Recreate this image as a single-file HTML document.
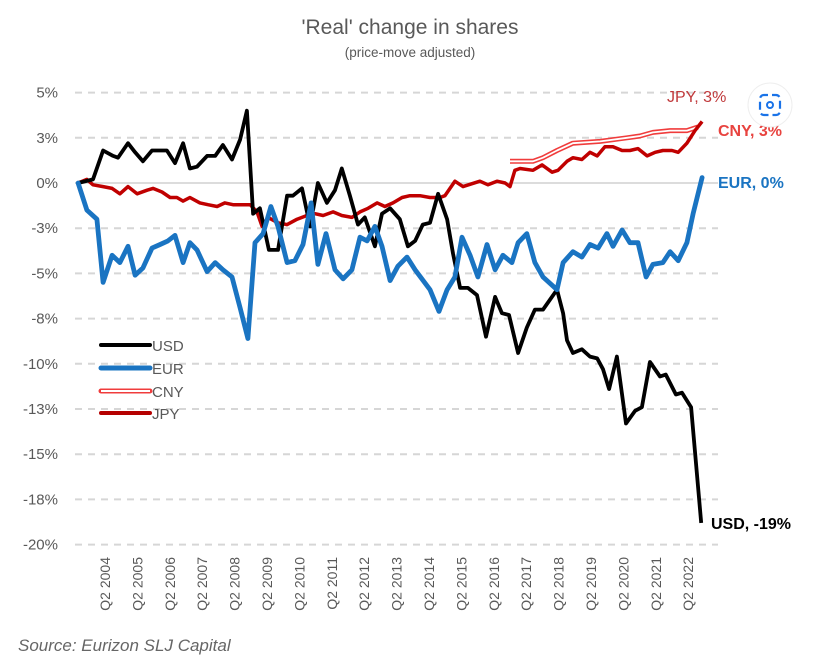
<!DOCTYPE html>
<html><head><meta charset="utf-8"><style>
html,body{margin:0;padding:0;background:#fff;}
svg{display:block;font-family:"Liberation Sans",sans-serif;}
</style></head><body>
<svg id="chart" width="816" height="658" viewBox="0 0 816 658">
<text x="410" y="34" text-anchor="middle" font-size="21" fill="#595959">'Real' change in shares</text>
<text x="410" y="57" text-anchor="middle" font-size="13.5" fill="#595959">(price-move adjusted)</text>
<g id="grid"></g><g id="ylabels"></g><g id="xlabels"></g><g id="series"></g>
<g>
 <g><line x1="101" y1="345" x2="150" y2="345" stroke="#000" stroke-width="4" stroke-linecap="round"/><text x="152" y="351" font-size="15" fill="#595959">USD</text></g>
 <g><line x1="101" y1="368" x2="150" y2="368" stroke="#1a74c2" stroke-width="5" stroke-linecap="round"/><text x="152" y="374" font-size="15" fill="#595959">EUR</text></g>
 <g><line x1="101" y1="391" x2="150" y2="391" stroke="#f03c3c" stroke-width="5" stroke-linecap="round"/><line x1="101" y1="391" x2="150" y2="391" stroke="#fff" stroke-width="2"/><text x="152" y="397" font-size="15" fill="#595959">CNY</text></g>
 <g><line x1="101" y1="413" x2="150" y2="413" stroke="#b50000" stroke-width="4" stroke-linecap="round"/><text x="152" y="419" font-size="15" fill="#595959">JPY</text></g>
</g>
<text x="667" y="102" font-size="16" fill="#c0393b">JPY, 3%</text>
<text x="718" y="136" font-size="16" font-weight="bold" fill="#e8433f">CNY, 3%</text>
<text x="718" y="188" font-size="16" font-weight="bold" fill="#1a74c2">EUR, 0%</text>
<text x="711" y="529" font-size="16" font-weight="bold" fill="#000">USD, -19%</text>
<text x="18" y="651" font-size="17" font-style="italic" fill="#666">Source: Eurizon SLJ Capital</text>
<g><circle cx="770" cy="105" r="22" fill="#fff" stroke="#eee"/><rect x="760" y="95" width="20" height="20" rx="4" fill="none" stroke="#1a73e8" stroke-width="2.2" stroke-dasharray="8 4" stroke-dashoffset="4"/><circle cx="770" cy="105" r="3" fill="none" stroke="#1a73e8" stroke-width="2"/></g>
</svg>
<script>
const yTicks=[5,2.5,0,-2.5,-5,-7.5,-10,-12.5,-15,-17.5,-20];
const yTickLabels=["5%","3%","0%","-3%","-5%","-8%","-10%","-13%","-15%","-18%","-20%"];
const xTickYears=[2004,2005,2006,2007,2008,2009,2010,2011,2012,2013,2014,2015,2016,2017,2018,2019,2020,2021,2022];
const usdT=[2003.17,2003.63,2003.94,2004.25,2004.40,2004.71,2004.93,2005.17,2005.45,2005.70,2005.91,2006.16,2006.41,2006.62,2006.84,2007.15,2007.40,2007.64,2007.92,2008.17,2008.38,2008.57,2008.78,2009.06,2009.34,2009.62,2009.80,2010.08,2010.33,2010.57,2010.85,2011.10,2011.31,2011.56,2011.81,2012.02,2012.33,2012.55,2012.80,2013.10,2013.35,2013.57,2013.81,2014.03,2014.28,2014.56,2014.74,2014.96,2015.20,2015.48,2015.76,2016.04,2016.25,2016.47,2016.75,2017.02,2017.27,2017.52,2017.95,2018.14,2018.26,2018.44,2018.72,2018.97,2019.19,2019.37,2019.56,2019.80,2020.08,2020.36,2020.57,2020.82,2021.13,2021.31,2021.62,2021.81,2022.09,2022.40];
const usdV=[0,0.2,1.8,1.5,1.4,2.2,1.7,1.2,1.8,1.8,1.8,1.1,2.2,0.8,0.9,1.5,1.5,2.1,1.3,2.4,4.0,-1.7,-1.4,-3.7,-3.7,-0.7,-0.7,-0.3,-2.4,0,-1.1,-0.4,0.8,-0.7,-2.3,-1.9,-3.5,-1.7,-1.4,-2.0,-3.5,-3.2,-2.3,-2.2,-0.6,-2.0,-3.9,-5.8,-5.8,-6.2,-8.5,-6.3,-7.2,-7.3,-9.4,-8.0,-7.0,-7.0,-5.9,-7.2,-8.7,-9.4,-9.2,-9.6,-9.7,-10.3,-11.4,-9.6,-13.3,-12.6,-12.4,-9.9,-10.7,-10.6,-11.7,-11.6,-12.4,-18.8];
const eurT=[2003.17,2003.44,2003.75,2003.94,2004.22,2004.46,2004.71,2004.93,2005.17,2005.45,2005.70,2005.94,2006.16,2006.41,2006.62,2006.84,2007.15,2007.40,2007.64,2007.92,2008.17,2008.41,2008.63,2008.88,2009.12,2009.34,2009.62,2009.86,2010.11,2010.36,2010.57,2010.82,2011.10,2011.35,2011.62,2011.87,2012.09,2012.33,2012.55,2012.80,2013.04,2013.32,2013.57,2014.03,2014.31,2014.56,2014.80,2015.02,2015.27,2015.51,2015.79,2016.04,2016.28,2016.56,2016.75,2017.02,2017.27,2017.52,2017.95,2018.14,2018.44,2018.72,2018.97,2019.22,2019.49,2019.68,2019.96,2020.20,2020.45,2020.70,2020.91,2021.22,2021.44,2021.69,2021.96,2022.15,2022.43];
const eurV=[0,-1.5,-2.0,-5.5,-4.0,-4.4,-3.5,-5.1,-4.7,-3.6,-3.4,-3.2,-2.9,-4.4,-3.3,-3.7,-4.9,-4.4,-4.8,-5.2,-6.9,-8.6,-3.3,-2.8,-1.3,-2.4,-4.4,-4.3,-3.4,-1.1,-4.5,-2.8,-4.8,-5.3,-4.8,-3.0,-3.2,-2.4,-3.5,-5.4,-4.6,-4.1,-4.8,-5.9,-7.1,-5.9,-5.2,-3.0,-4.0,-5.2,-3.4,-4.8,-4.0,-4.4,-3.3,-2.8,-4.4,-5.2,-5.9,-4.4,-3.8,-4.1,-3.4,-3.6,-2.8,-3.5,-2.6,-3.3,-3.3,-5.2,-4.5,-4.4,-3.8,-4.3,-3.3,-1.7,0.3];
const jpyT=[2003.17,2003.44,2003.63,2003.94,2004.22,2004.46,2004.71,2004.99,2005.30,2005.48,2005.76,2006.01,2006.22,2006.41,2006.62,2006.93,2007.18,2007.46,2007.70,2007.95,2008.23,2008.48,2008.69,2008.85,2009.03,2009.34,2009.62,2009.93,2010.23,2010.48,2010.73,2011.04,2011.31,2011.62,2011.87,2012.12,2012.40,2012.64,2012.89,2013.17,2013.41,2013.72,2014.03,2014.34,2014.49,2014.80,2015.05,2015.57,2015.82,2016.10,2016.35,2016.50,2016.65,2016.81,2017.21,2017.49,2017.80,2017.98,2018.26,2018.44,2018.72,2018.97,2019.19,2019.43,2019.68,2019.96,2020.20,2020.45,2020.73,2020.98,2021.22,2021.50,2021.69,2021.96,2022.21,2022.43];
const jpyV=[0,0.2,-0.1,-0.2,-0.3,-0.6,-0.2,-0.6,-0.4,-0.3,-0.5,-0.8,-0.8,-1.0,-0.8,-1.1,-1.2,-1.3,-1.1,-1.2,-1.2,-1.2,-1.6,-2.4,-1.9,-2.2,-2.3,-2.0,-1.8,-1.7,-1.8,-1.6,-1.8,-1.9,-1.6,-1.4,-1.1,-1.3,-1.1,-0.8,-0.7,-0.7,-0.8,-0.8,-0.7,0.1,-0.2,0.1,-0.1,0.1,0,-0.2,0.7,0.8,0.7,1.0,0.6,0.7,1.2,1.4,1.3,1.7,1.5,2.0,2.0,1.8,1.8,1.9,1.5,1.7,1.8,1.8,1.7,2.2,2.9,3.4];
const cnyT=[2016.50,2017.21,2017.52,2017.95,2018.44,2019.28,2020.11,2020.51,2020.91,2021.44,2021.96,2022.30];
const cnyV=[1.2,1.2,1.4,1.8,2.2,2.3,2.5,2.6,2.8,2.9,2.9,3.1];

const NS='http://www.w3.org/2000/svg';
const yScale=v=>183-v*18.08;
const xScale=t=>105+(t-2004)*32.4;
function mk(tag,attrs,parent){const e=document.createElementNS(NS,tag);for(const k in attrs)e.setAttribute(k,attrs[k]);parent.appendChild(e);return e;}
const grid=document.getElementById('grid'),yl=document.getElementById('ylabels'),xl=document.getElementById('xlabels'),ser=document.getElementById('series');
yTicks.forEach((v,i)=>{
  const y=yScale(v);
  const ln=mk('line',{x1:75,x2:718,y1:y,y2:y,stroke:v===0?'#d0d0d0':'#d6d6d6','stroke-width':v===0?1.5:2,'stroke-dasharray':v===0?'none':'7 6'},grid);
  
  
  const t=mk('text',{x:58,y:y+5,'text-anchor':'end','font-size':15,fill:'#595959'},yl);
  t.textContent=yTickLabels[i];
  
  
});
xTickYears.forEach(yr=>{
  const x=xScale(yr)+5;
  const t=mk('text',{x:0,y:0,transform:`translate(${x},557) rotate(-90)`,'text-anchor':'end','font-size':14,fill:'#595959'},xl);
  t.textContent='Q2 '+yr;
  
  
});
function pts(T,V){return T.map((t,i)=>xScale(t).toFixed(1)+','+yScale(V[i]).toFixed(1)).join(' ');}
let p;
p=mk('polyline',{points:pts(cnyT,cnyV),fill:'none',stroke:'#f03c3c','stroke-width':5,'stroke-linejoin':'round'},ser);


p=mk('polyline',{points:pts(cnyT,cnyV),fill:'none',stroke:'#fff','stroke-width':1.8,'stroke-linejoin':'round'},ser);


p=mk('polyline',{points:pts(jpyT,jpyV),fill:'none',stroke:'#c00000','stroke-width':3.5,'stroke-linejoin':'round'},ser);


p=mk('polyline',{points:pts(usdT,usdV),fill:'none',stroke:'#000','stroke-width':3.8,'stroke-linejoin':'round'},ser);


p=mk('polyline',{points:pts(eurT,eurV),fill:'none',stroke:'#1a74c2','stroke-width':4.8,'stroke-linejoin':'round','stroke-linecap':'round'},ser);


</script>
</body></html>
